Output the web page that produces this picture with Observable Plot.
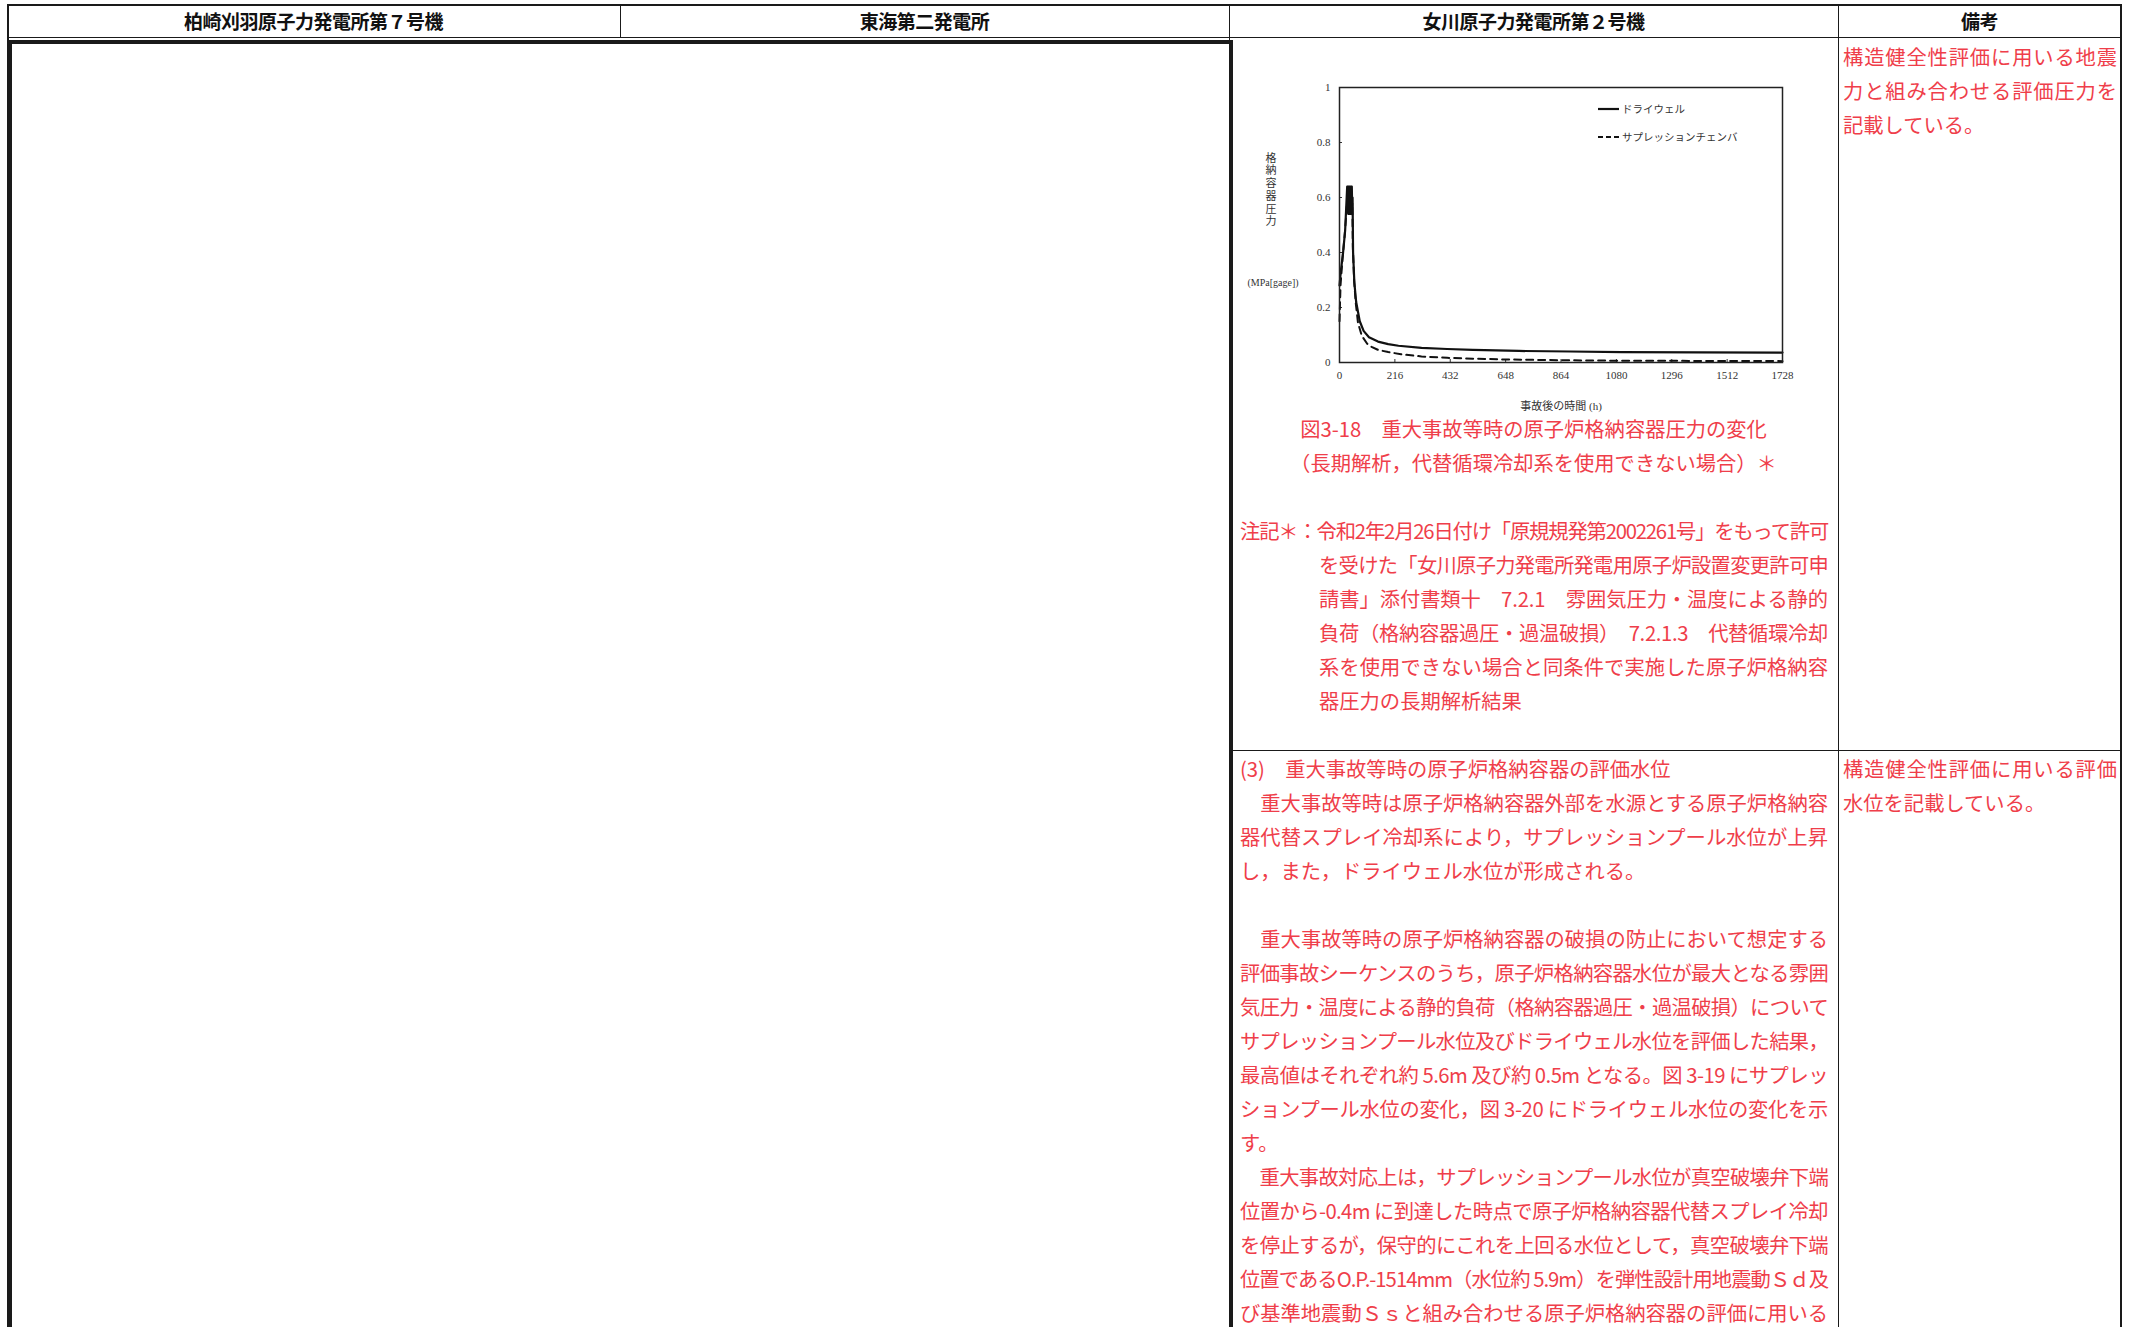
<!DOCTYPE html>
<html lang="ja">
<head>
<meta charset="utf-8">
<script src="https://cdn.jsdelivr.net/npm/d3@7"></script>
<script src="https://cdn.jsdelivr.net/npm/@observablehq/plot@0.6"></script>
<style>
  html, body { margin: 0; padding: 0; background: #fff; }
  #page { position: relative; width: 2136px; height: 1327px; overflow: hidden; background: #fff;
          font-family: "Noto Sans CJK JP", sans-serif; }
  .ln { position: absolute; background: #1a1a1a; }
  .hdr { position: absolute; top: 4px; height: 34px; line-height: 34px; text-align: center;
         font-weight: bold; font-size: 19px; color: #111; letter-spacing: -0.5px; }
  .red { position: absolute; color: #ef3e4a; font-size: 20.3px; }
  .red div { height: 34px; line-height: 34px; white-space: nowrap; }
  .jj { text-align: justify; text-align-last: justify; }
  #chart { position: absolute; left: 1240px; top: 70px; }
  .legtxt { position: absolute; font-size: 10.5px; color: #333; white-space: nowrap; line-height: 14px; }
</style>
</head>
<body>
<div id="page">
  <!-- table lines -->
  <div class="ln" style="left:7px;top:4px;width:2115px;height:1.5px"></div>
  <div class="ln" style="left:7px;top:37px;width:2115px;height:1px"></div>
  <div class="ln" style="left:7px;top:4px;width:1.5px;height:1323px"></div>
  <div class="ln" style="left:620px;top:4px;width:1px;height:34px"></div>
  <div class="ln" style="left:1229px;top:4px;width:1px;height:36px"></div>
  <div class="ln" style="left:1838px;top:4px;width:1.2px;height:1323px"></div>
  <div class="ln" style="left:2120px;top:4px;width:1.5px;height:1323px"></div>
  <div class="ln" style="left:1229px;top:749.5px;width:892px;height:1.2px"></div>
  <!-- thick box -->
  <div style="position:absolute;left:8px;top:39.5px;width:1217px;height:1300px;border:4px solid #1a1a1a;border-bottom:none;"></div>

  <!-- header -->
  <div class="hdr" style="left:7px;width:613px">柏崎刈羽原子力発電所第７号機</div>
  <div class="hdr" style="left:620px;width:609px">東海第二発電所</div>
  <div class="hdr" style="left:1229px;width:609px">女川原子力発電所第２号機</div>
  <div class="hdr" style="left:1838px;width:283px">備考</div>

  <!-- chart -->
  <div id="chart"></div>
  <!-- y label -->
  <div style="position:absolute;left:1261px;top:150.5px;width:20px;text-align:center;font-size:11px;line-height:12.8px;color:#333">格<br>納<br>容<br>器<br>圧<br>力</div>
  <div style="position:absolute;left:1233px;top:276px;width:80px;text-align:center;font-size:10px;line-height:14px;color:#333;font-family:'Liberation Serif',serif">(MPa[gage])</div>
  <!-- legend -->
  <svg style="position:absolute;left:1596px;top:100px" width="26" height="46">
    <line x1="2" x2="23" y1="9" y2="9" stroke="#111" stroke-width="2.2"/>
    <line x1="2" x2="23" y1="37" y2="37" stroke="#111" stroke-width="2" stroke-dasharray="5,3"/>
  </svg>
  <div class="legtxt" style="left:1622px;top:102px">ドライウェル</div>
  <div class="legtxt" style="left:1622px;top:130px">サプレッションチェンバ</div>

  <!-- caption -->
  <div class="red" style="left:1229px;top:411px;width:609px;text-align:center">
    <div>図3-18　重大事故等時の原子炉格納容器圧力の変化</div>
    <div>（長期解析，代替循環冷却系を使用できない場合）＊</div>
  </div>

  <!-- note -->
  <div class="red" style="left:1240px;top:512.5px;width:588px">
    <div class="j">注記＊：令和2年2月26日付け「原規規発第2002261号」をもって許可</div>
    <div class="j" style="margin-left:79px">を受けた「女川原子力発電所発電用原子炉設置変更許可申</div>
    <div class="j" style="margin-left:79px">請書」添付書類十　7.2.1　雰囲気圧力・温度による静的</div>
    <div class="j" style="margin-left:79px">負荷（格納容器過圧・過温破損）　7.2.1.3　代替循環冷却</div>
    <div class="j" style="margin-left:79px">系を使用できない場合と同条件で実施した原子炉格納容</div>
    <div style="margin-left:79px">器圧力の長期解析結果</div>
  </div>

  <!-- section (3) -->
  <div class="red" style="left:1240px;top:751px;width:588px">
    <div>(3)　重大事故等時の原子炉格納容器の評価水位</div>
    <div class="j">　重大事故等時は原子炉格納容器外部を水源とする原子炉格納容</div>
    <div class="j">器代替スプレイ冷却系により，サプレッションプール水位が上昇</div>
    <div>し，また，ドライウェル水位が形成される。</div>
    <div></div>
    <div class="j">　重大事故等時の原子炉格納容器の破損の防止において想定する</div>
    <div class="j">評価事故シーケンスのうち，原子炉格納容器水位が最大となる雰囲</div>
    <div class="j">気圧力・温度による静的負荷（格納容器過圧・過温破損）について</div>
    <div class="j">サプレッションプール水位及びドライウェル水位を評価した結果，</div>
    <div class="j">最高値はそれぞれ約 5.6m 及び約 0.5m となる。図 3-19 にサプレッ</div>
    <div class="j">ションプール水位の変化，図 3-20 にドライウェル水位の変化を示</div>
    <div>す。</div>
    <div class="j">　重大事故対応上は，サプレッションプール水位が真空破壊弁下端</div>
    <div class="j">位置から-0.4m に到達した時点で原子炉格納容器代替スプレイ冷却</div>
    <div class="j">を停止するが，保守的にこれを上回る水位として，真空破壊弁下端</div>
    <div class="j">位置であるO.P.-1514mm（水位約 5.9m）を弾性設計用地震動Ｓｄ及</div>
    <div class="j">び基準地震動Ｓｓと組み合わせる原子炉格納容器の評価に用いる</div>
  </div>

  <!-- remarks column -->
  <div class="red" style="left:1843px;top:38.5px;width:274px">
    <div class="j">構造健全性評価に用いる地震</div>
    <div class="j">力と組み合わせる評価圧力を</div>
    <div>記載している。</div>
  </div>
  <div class="red" style="left:1843px;top:751px;width:274px">
    <div class="j">構造健全性評価に用いる評価</div>
    <div>水位を記載している。</div>
  </div>
</div>

<script>
// ---- data ----
const xTicks = [0, 216, 432, 648, 864, 1080, 1296, 1512, 1728];
const yTicks = [0, 0.2, 0.4, 0.6, 0.8, 1];

// ドライウェル (drywell) pressure, MPa[gage]
const drywellHours = [0, 5, 14, 22, 28, 30, 31.5, 33, 34.5, 36, 37.5, 39, 40.5, 42, 43.5, 45, 46.5, 48, 49.5,
  51, 53, 58, 65, 79, 94, 115, 150, 190, 230, 320, 420, 520, 700, 900, 1100, 1400, 1728];
const drywellPressure = [0.28, 0.33, 0.40, 0.48, 0.60, 0.64, 0.55, 0.64, 0.54, 0.64, 0.54, 0.64, 0.54, 0.64, 0.54, 0.64, 0.55, 0.64, 0.56,
  0.60, 0.40, 0.29, 0.22, 0.15, 0.115, 0.092, 0.076, 0.067, 0.061, 0.053, 0.049, 0.046, 0.042, 0.040, 0.038, 0.037, 0.036];

// サプレッションチェンバ (suppression chamber) pressure, MPa[gage]
const suppressionHours = [0, 4, 12, 20, 28, 30, 32, 34, 36, 38, 40, 42, 44, 46, 48, 50,
  52, 57, 63, 72, 87, 108, 125, 150, 190, 240, 320, 420, 520, 650, 800, 1000, 1300, 1728];
const suppressionPressure = [0.15, 0.28, 0.38, 0.46, 0.56, 0.60, 0.54, 0.60, 0.54, 0.60, 0.54, 0.60, 0.54, 0.60, 0.54, 0.58,
  0.42, 0.30, 0.22, 0.145, 0.097, 0.068, 0.057, 0.046, 0.038, 0.030, 0.022, 0.017, 0.014, 0.011, 0.009, 0.007, 0.006, 0.005];

const drywell = drywellHours.map((t, i) => ({t, p: drywellPressure[i]}));
const suppression = suppressionHours.map((t, i) => ({t, p: suppressionPressure[i]}));

const chart = Plot.plot({
  width: 580,
  height: 360,
  marginLeft: 99,
  marginRight: 38,
  marginTop: 17,
  marginBottom: 68,
  style: {fontFamily: "'Liberation Serif', 'Noto Sans CJK JP', serif", fontSize: "11px", color: "#333", background: "transparent", overflow: "visible"},
  x: {domain: [0, 1728], ticks: xTicks, tickFormat: d => String(d), label: "事故後の時間 (h)", labelAnchor: "center", labelArrow: "none", labelOffset: 47, tickSize: -3, tickPadding: 12},
  y: {domain: [0, 1], ticks: yTicks, tickFormat: d => (d === 0 || d === 1) ? String(d) : d.toFixed(1), label: null, tickSize: -3, tickPadding: 12},
  marks: [
    Plot.line(suppression, {x: "t", y: "p", stroke: "#111", strokeWidth: 2, strokeDasharray: "7,5"}),
    Plot.line(drywell, {x: "t", y: "p", stroke: "#111", strokeWidth: 2.2}),
    Plot.frame({stroke: "#222", strokeWidth: 1.5})
  ]
});
document.getElementById("chart").appendChild(chart);

// fit long text lines into their column: tighten letter spacing where needed, then justify
document.querySelectorAll(".red div").forEach(d => {
  const avail = d.clientWidth;
  const span = document.createElement("span");
  while (d.firstChild) span.appendChild(d.firstChild);
  d.appendChild(span);
  const natural = span.getBoundingClientRect().width;
  const n = d.textContent.length;
  if (natural > avail - 1 && n > 0) {
    d.style.letterSpacing = (-(natural - avail + 2) / n) + "px";
  }
  if (d.classList.contains("j")) d.classList.add("jj");
});
</script>
</body>
</html>
